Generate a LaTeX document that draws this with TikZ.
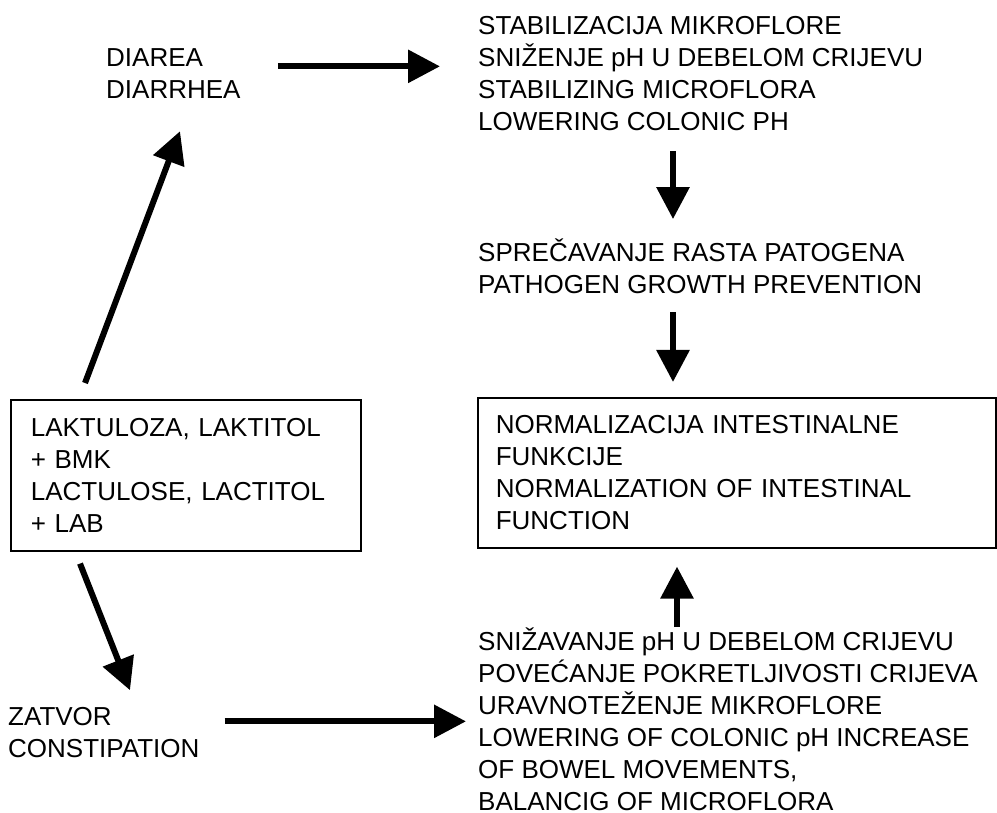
\documentclass[tikz,border=0pt]{standalone}
\usepackage{fontspec}
\setmainfont{Liberation Sans}
\usetikzlibrary{arrows.meta}

\begin{document}
\begin{tikzpicture}[x=1pt,y=-1pt,
    every node/.style={font=\fontsize{26}{32}\selectfont, inner sep=0pt, align=left},
    box/.style={draw, line width=1.6pt, anchor=north west},
    arr/.style={line width=6pt, -{Triangle[length=32pt,width=32pt]}}]
  \useasboundingbox (0,0) rectangle (997,813);

  % base of a text node = baseline of its last line
  \node[anchor=base west] (diarea) at (106,99) {DIAREA\\DIARRHEA};
  \node[anchor=base west] (stab) at (478,131) {STABILIZACIJA MIKROFLORE\\SNIŽENJE pH U DEBELOM CRIJEVU\\STABILIZING MICROFLORA\\LOWERING COLONIC PH};
  \node[anchor=base west] (sprec) at (478,294) {SPREČAVANJE RASTA PATOGENA\\PATHOGEN GROWTH PREVENTION};
  \node[box, text width=482pt, inner xsep=18pt, minimum height=150pt] (norm) at (477,397)
    {NORMALIZACIJA INTESTINALNE\\FUNKCIJE\\NORMALIZATION OF INTESTINAL\\FUNCTION};
  \node[box, text width=310pt, inner xsep=20pt, minimum height=151pt] (lak) at (10,399)
    {LAKTULOZA, LAKTITOL\\+ BMK\\LACTULOSE, LACTITOL\\+ LAB};
  \node[anchor=base west] (zatvor) at (8,757) {ZATVOR\\CONSTIPATION};
  \node[anchor=base west] (sniz) at (478,810) {SNIŽAVANJE pH U DEBELOM CRIJEVU\\POVEĆANJE POKRETLJIVOSTI CRIJEVA\\URAVNOTEŽENJE MIKROFLORE\\LOWERING OF COLONIC pH INCREASE\\OF BOWEL MOVEMENTS,\\BALANCIG OF MICROFLORA};

  % arrows
  \draw[arr, shorten <=37pt, shorten >=38pt] ([yshift=7.7pt]diarea.east) -- ([yshift=7.7pt]diarea.east -| stab.west);
  \draw[arr] ([xshift=75pt,yshift=16pt]lak.north west) -- ([xshift=74pt,yshift=-32pt]diarea.south west);
  \draw[arr] ([xshift=70pt,yshift=-12pt]lak.south west) -- ([xshift=122pt,yshift=16.4pt]zatvor.north west);
  \draw[arr, shorten <=25pt, shorten >=12pt] ([yshift=10.7pt]zatvor.east) -- ([yshift=10.7pt]zatvor.east -| sniz.west);
  \draw[arr, shorten <=20pt, shorten >=20pt] ([xshift=195pt]stab.south west) -- ([xshift=195pt]stab.south west |- sprec.north);
  \draw[arr, shorten <=18pt, shorten >=15pt] ([xshift=195pt]sprec.south west) -- ([xshift=195pt]sprec.south west |- norm.north);
  \draw[arr, shorten >=18pt] ([xshift=199pt]sniz.north west) -- ([xshift=199pt]sniz.north west |- norm.south);
\end{tikzpicture}
\end{document}
